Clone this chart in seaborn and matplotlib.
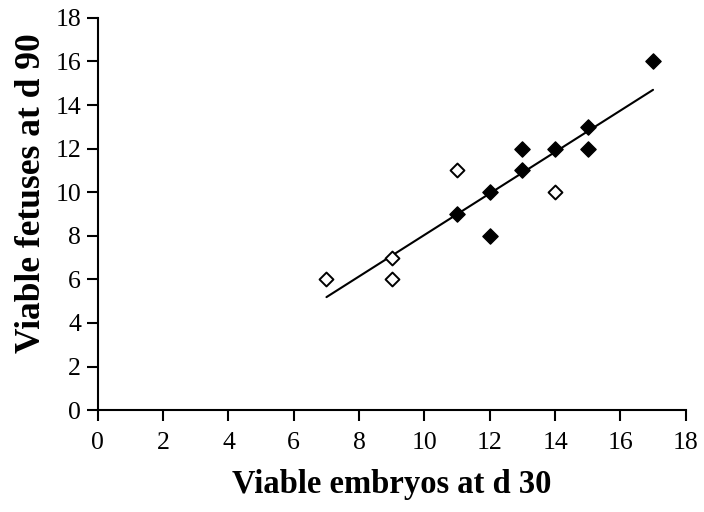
import matplotlib
matplotlib.use("Agg")
import matplotlib.pyplot as plt
import seaborn as sns
import numpy as np
import pandas as pd

# Data
filled_x = [11, 12, 12, 13, 13, 14, 15, 15, 17]
filled_y = [9, 10, 8, 12, 11, 12, 13, 12, 16]
open_x = [7, 9, 9, 11, 14]
open_y = [6, 7, 6, 11, 10]

x_ticks = [0, 2, 4, 6, 8, 10, 12, 14, 16, 18]
y_ticks = [0, 2, 4, 6, 8, 10, 12, 14, 16, 18]

df_all = pd.DataFrame({"x": filled_x + open_x, "y": filled_y + open_y})
df_filled = pd.DataFrame({"x": filled_x, "y": filled_y})
df_open = pd.DataFrame({"x": open_x, "y": open_y})

sns.set_style("white")
plt.rcParams["font.family"] = ["Liberation Serif", "DejaVu Serif"]
plt.rcParams["text.color"] = "black"
plt.rcParams["axes.labelcolor"] = "black"

fig = plt.figure(figsize=(7.04, 5.12), dpi=100)
ax = fig.add_axes([0.139, 0.199, 0.835, 0.766])

sns.regplot(data=df_all, x="x", y="y", ax=ax, ci=None, scatter=False,
            truncate=True, line_kws={"color": "black", "lw": 1.5})
sns.scatterplot(data=df_filled, x="x", y="y", ax=ax, marker="D", s=60,
                color="black", edgecolor="black", linewidth=1, zorder=3)
sns.scatterplot(data=df_open, x="x", y="y", ax=ax, marker="D", s=50,
                facecolor="white", edgecolor="black", linewidth=1.4, zorder=3)

ax.set_xlim(0, 18)
ax.set_ylim(0, 18)
ax.set_xticks(x_ticks)
ax.set_yticks(y_ticks)
ax.set_xticklabels([str(t) for t in x_ticks], fontsize=18.5)
ax.set_yticklabels([str(t) for t in y_ticks], fontsize=18.5)

for s in ["top", "right"]:
    ax.spines[s].set_visible(False)
for s in ["left", "bottom"]:
    ax.spines[s].set_color("black")
    ax.spines[s].set_linewidth(1.5)

ax.tick_params(axis="both", direction="out", length=8, width=1.5,
               colors="black", labelcolor="black")
ax.tick_params(axis="x", pad=8)
ax.tick_params(axis="y", pad=4)
ax.tick_params(bottom=True, left=True)

ax.set_xlabel("Viable embryos at d 30", fontsize=23.5, fontweight="bold",
              color="black")
ax.set_ylabel("Viable fetuses at d 90", fontsize=25.5, fontweight="bold",
              color="black")
ax.xaxis.set_label_coords(0.5, -0.150)
ax.yaxis.set_label_coords(-0.085, 0.553)

fig.savefig("out.png", dpi=100)
